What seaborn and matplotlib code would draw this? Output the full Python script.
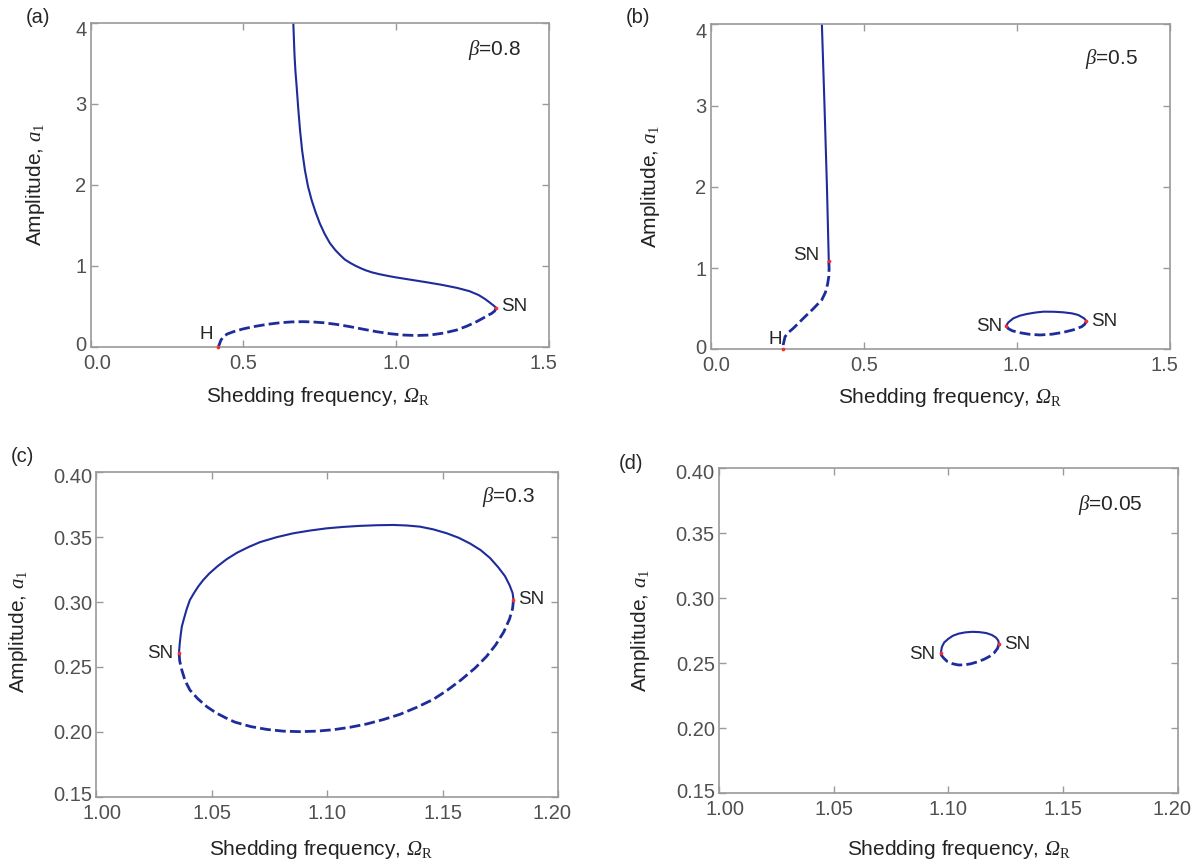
import numpy as np
import pandas as pd
import matplotlib
matplotlib.use("Agg")
import matplotlib.pyplot as plt
import matplotlib.transforms as mtransforms
import seaborn as sns

# ---------------- data ----------------
# Panel (a), beta = 0.8
a_stable_x = [0.663, 0.665, 0.667, 0.670, 0.674, 0.679, 0.685, 0.692, 0.701, 0.711, 0.723,
              0.736, 0.750, 0.766, 0.783, 0.800, 0.816, 0.832, 0.849, 0.866, 0.884, 0.900,
              0.920, 0.945, 0.975, 1.000, 1.050, 1.100, 1.150, 1.200, 1.240, 1.270, 1.290,
              1.305, 1.318, 1.327]
a_stable_y = [4.00, 3.80, 3.60, 3.40, 3.21, 2.95, 2.675, 2.42, 2.18, 1.98, 1.81,
              1.66, 1.52, 1.39, 1.277, 1.195, 1.132, 1.075, 1.035, 1.000, 0.968, 0.943,
              0.918, 0.895, 0.872, 0.855, 0.825, 0.795, 0.763, 0.725, 0.685, 0.637, 0.590,
              0.548, 0.510, 0.480]
a_unstable_x = [1.327, 1.322, 1.312, 1.301, 1.283, 1.263, 1.232, 1.198, 1.155, 1.111, 1.067,
                1.023, 0.980, 0.936, 0.893, 0.849, 0.805, 0.761, 0.728, 0.696, 0.658, 0.620,
                0.576, 0.532, 0.497, 0.467, 0.447, 0.434, 0.426, 0.421, 0.418]
a_unstable_y = [0.48, 0.44, 0.41, 0.39, 0.35, 0.309, 0.255, 0.206, 0.168, 0.144, 0.138,
                0.144, 0.160, 0.185, 0.215, 0.247, 0.275, 0.296, 0.305, 0.309, 0.306, 0.296,
                0.275, 0.247, 0.218, 0.185, 0.157, 0.123, 0.08, 0.03, 0.0]
a_points_x = [0.418, 1.327]
a_points_y = [0.0, 0.48]

# Panel (b), beta = 0.5
b_stable_x = [0.3635, 0.372, 0.380, 0.386]
b_stable_y = [4.0, 3.0, 2.0, 1.087]
b_unstable_x = [0.386, 0.387, 0.386, 0.382, 0.375, 0.363, 0.347, 0.333, 0.314, 0.292,
                0.270, 0.255, 0.2432, 0.2375, 0.2357]
b_unstable_y = [1.087, 1.0, 0.894, 0.80, 0.70, 0.607, 0.545, 0.49, 0.422, 0.34,
                0.258, 0.21, 0.155, 0.06, 0.0]
b_isola_stable_x = [0.965, 0.972, 0.9885, 1.010, 1.032, 1.060, 1.0864, 1.120, 1.152, 1.180,
                    1.2007, 1.2193, 1.227]
b_isola_stable_y = [0.290, 0.330, 0.381, 0.414, 0.434, 0.452, 0.463, 0.462, 0.455, 0.442,
                    0.422, 0.381, 0.349]
b_isola_unstable_x = [1.227, 1.222, 1.2117, 1.185, 1.152, 1.115, 1.0757, 1.040, 1.0103, 0.985,
                      0.972, 0.965]
b_isola_unstable_y = [0.349, 0.310, 0.278, 0.240, 0.209, 0.186, 0.176, 0.185, 0.204, 0.228,
                      0.255, 0.290]
b_points_x = [0.2357, 0.386, 0.965, 1.227]
b_points_y = [0.0, 1.087, 0.290, 0.349]

# Panel (c), beta = 0.3
c_stable_x = [1.0359, 1.0362, 1.0366, 1.0371, 1.0380, 1.0392, 1.0406, 1.0424, 1.0443, 1.0464,
              1.0490, 1.0525, 1.0565, 1.0610, 1.0660, 1.0710, 1.0782, 1.0854, 1.0926, 1.0998,
              1.1070, 1.1142, 1.1215, 1.1287, 1.1345, 1.1402, 1.1460, 1.1518, 1.1570, 1.1620,
              1.1665, 1.1705, 1.1740, 1.1770, 1.1790, 1.1803, 1.1807]
c_stable_y = [0.2610, 0.2680, 0.2745, 0.2810, 0.2870, 0.2945, 0.3016, 0.3070, 0.3122, 0.3170,
              0.3220, 0.3275, 0.3330, 0.3380, 0.3424, 0.3462, 0.3500, 0.3530, 0.3551, 0.3568,
              0.3579, 0.3587, 0.3592, 0.3594, 0.3590, 0.3581, 0.3560, 0.3530, 0.3495, 0.3450,
              0.3400, 0.3340, 0.3270, 0.3200, 0.3130, 0.3070, 0.3016]
c_unstable_x = [1.1807, 1.1803, 1.1790, 1.1765, 1.1730, 1.1690, 1.1640, 1.1580, 1.1520, 1.1460,
                1.1390, 1.1316, 1.1245, 1.1171, 1.1100, 1.1027, 1.0955, 1.0883, 1.0810, 1.0740,
                1.0670, 1.0600, 1.0565, 1.0520, 1.0479, 1.0440, 1.0406, 1.0385, 1.0371, 1.0362,
                1.0359]
c_unstable_y = [0.3016, 0.2950, 0.2870, 0.2770, 0.2670, 0.2580, 0.2490, 0.2400, 0.2320, 0.2250,
                0.2190, 0.2135, 0.2095, 0.2060, 0.2035, 0.2016, 0.2005, 0.2001, 0.2005, 0.2018,
                0.2040, 0.2075, 0.2104, 0.2145, 0.2194, 0.2255, 0.2322, 0.2395, 0.2476, 0.2545,
                0.2610]
c_points_x = [1.0359, 1.1807]
c_points_y = [0.2610, 0.3016]

# Panel (d), beta = 0.05
d_stable_x = [1.0968, 1.0972, 1.0982, 1.1000, 1.1020, 1.1045, 1.1074, 1.1105, 1.1135, 1.1165,
              1.1190, 1.1208, 1.1218, 1.1221]
d_stable_y = [0.2582, 0.2625, 0.2660, 0.2688, 0.2712, 0.2728, 0.2738, 0.2742, 0.2740, 0.2733,
              0.2718, 0.2698, 0.2675, 0.2649]
d_unstable_x = [1.1221, 1.1215, 1.1200, 1.1180, 1.1155, 1.1125, 1.1100, 1.1073, 1.1045, 1.1020,
                1.0995, 1.0980, 1.0970, 1.0968]
d_unstable_y = [0.2649, 0.2615, 0.2580, 0.2553, 0.2530, 0.2510, 0.2497, 0.2488, 0.2487, 0.2496,
                0.2515, 0.2540, 0.2562, 0.2582]
d_points_x = [1.0968, 1.1221]
d_points_y = [0.2582, 0.2649]

beta_labels = ["0.8", "0.5", "0.3", "0.05"]
panel_tags = ["(a)", "(b)", "(c)", "(d)"]
ab_xticks = [0.0, 0.5, 1.0, 1.5]
ab_yticks = [0, 1, 2, 3, 4]
cd_xticks = [1.00, 1.05, 1.10, 1.15, 1.20]
cd_yticks = [0.15, 0.20, 0.25, 0.30, 0.35, 0.40]

# ---------------- style ----------------
sns.set_theme(style="ticks")
plt.rcParams["font.family"] = ["Liberation Sans", "DejaVu Sans"]
# serif italic symbols (Greek capitals are drawn with the "rm" font, so make it italic)
plt.rcParams["mathtext.fontset"] = "custom"
plt.rcParams["mathtext.rm"] = "Liberation Serif:italic"
plt.rcParams["mathtext.it"] = "Liberation Serif:italic"
plt.rcParams["mathtext.sf"] = "Liberation Serif"
plt.rcParams["mathtext.bf"] = "Liberation Serif:bold"
plt.rcParams["lines.scale_dashes"] = False
plt.rcParams["lines.dashed_pattern"] = [7.8, 3.0]

LINE = "#1d2c9a"
RED = "#ff2a2a"
SPINE = "#9a9a9a"
TICKLAB = "#505050"
FS_LAB = 15
FS_TXT = 13.5

fig = plt.figure(figsize=(11.94, 8.65), dpi=100)
positions = [
    [0.0760, 0.5992, 0.3838, 0.3746],
    [0.5951, 0.5962, 0.3848, 0.3757],
    [0.0805, 0.0790, 0.3869, 0.3750],
    [0.6022, 0.0829, 0.3840, 0.3757],
]
axes = [fig.add_axes(p) for p in positions]


def draw(ax, x, y, dashed=False):
    df = pd.DataFrame({"x": x, "y": y})
    sns.lineplot(data=df, x="x", y="y", ax=ax, sort=False, estimator=None,
                 color=LINE, lw=2.0 if dashed else 1.5,
                 linestyle="--" if dashed else "-")


def points(ax, x, y):
    sns.scatterplot(x=x, y=y, ax=ax, color=RED, s=7, linewidth=0, zorder=5, clip_on=False)


def shift(label, dx_px, dy_px):
    off = mtransforms.ScaledTranslation(dx_px / 100.0, dy_px / 100.0, fig.dpi_scale_trans)
    label.set_transform(label.get_transform() + off)


# (a)
ax = axes[0]
draw(ax, a_stable_x, a_stable_y)
draw(ax, a_unstable_x, a_unstable_y, dashed=True)
points(ax, a_points_x, a_points_y)
ax.text(0.399, 0.04, "H", ha="right", va="bottom", fontsize=FS_TXT)
ax.text(1.342, 0.49, "SN", ha="left", va="center", fontsize=FS_TXT)

# (b)
ax = axes[1]
draw(ax, b_stable_x, b_stable_y)
draw(ax, b_unstable_x, b_unstable_y, dashed=True)
draw(ax, b_isola_stable_x, b_isola_stable_y)
draw(ax, b_isola_unstable_x, b_isola_unstable_y, dashed=True)
points(ax, b_points_x, b_points_y)
ax.text(0.234, 0.02, "H", ha="right", va="bottom", fontsize=FS_TXT)
ax.text(0.355, 1.149, "SN", ha="right", va="center", fontsize=FS_TXT)
ax.text(0.951, 0.278, "SN", ha="right", va="center", fontsize=FS_TXT)
ax.text(1.242, 0.348, "SN", ha="left", va="center", fontsize=FS_TXT)

# (c)
ax = axes[2]
draw(ax, c_stable_x, c_stable_y)
draw(ax, c_unstable_x, c_unstable_y, dashed=True)
points(ax, c_points_x, c_points_y)
ax.text(1.0335, 0.2605, "SN", ha="right", va="center", fontsize=FS_TXT)
ax.text(1.1829, 0.3020, "SN", ha="left", va="center", fontsize=FS_TXT)

# (d)
ax = axes[3]
draw(ax, d_stable_x, d_stable_y)
draw(ax, d_unstable_x, d_unstable_y, dashed=True)
points(ax, d_points_x, d_points_y)
ax.text(1.0944, 0.2569, "SN", ha="right", va="center", fontsize=FS_TXT)
ax.text(1.1245, 0.2646, "SN", ha="left", va="center", fontsize=FS_TXT)

beta_pos = [(0.824, 0.916), (0.815, 0.892), (0.836, 0.923), (0.782, 0.887)]
tag_pos = [(0.0318, 0.9803), (0.5343, 0.9803), (0.0184, 0.4728), (0.5285, 0.4636)]
xlab_pos = [(0.496, -0.155), (0.521, -0.147), (0.488, -0.164), (0.524, -0.174)]
ylab_pos = [(-0.1215, 0.5), (-0.1317, 0.5), (-0.169, 0.51), (-0.1707, 0.5)]

for i, ax in enumerate(axes):
    if i < 2:
        ax.set_xlim(0, 1.5)
        ax.set_ylim(0, 4)
        ax.set_xticks(ab_xticks)
        ax.set_xticklabels([f"{t:.1f}" for t in ab_xticks])
        ax.set_yticks(ab_yticks)
        ax.set_yticklabels([str(t) for t in ab_yticks])
    else:
        ax.set_xlim(1.0, 1.2)
        ax.set_ylim(0.15, 0.40)
        ax.set_xticks(cd_xticks)
        ax.set_xticklabels([f"{t:.2f}" for t in cd_xticks])
        ax.set_yticks(cd_yticks)
        ax.set_yticklabels([f"{t:.2f}" for t in cd_yticks])
    for s in ax.spines.values():
        s.set_visible(True)
        s.set_color(SPINE)
        s.set_linewidth(1.2)
    ax.tick_params(direction="in", length=5, width=1.0, color=SPINE,
                   top=True, right=True, labelsize=14.5, labelcolor=TICKLAB)
    ax.tick_params(axis="x", pad=5)
    ax.tick_params(axis="y", pad=3)
    # keep the corner labels inside the frame, as in the reference
    xl = ax.get_xticklabels()
    yl = ax.get_yticklabels()
    shift(xl[0], 6, 0)
    shift(xl[-1], -6, 0)
    shift(yl[0], 0, 3)
    shift(yl[-1], 0, -6 if i < 2 else -3)
    ax.set_xlabel(r"Shedding frequency, $\Omega_{\mathsf{R}}$", fontsize=FS_LAB,
                  color="#222222")
    ax.set_ylabel(r"Amplitude, $a_{\mathsf{1}}$", fontsize=FS_LAB, color="#222222")
    ax.xaxis.set_label_coords(*xlab_pos[i])
    ax.yaxis.set_label_coords(*ylab_pos[i])
    ax.xaxis.label.set_verticalalignment("center")
    ax.yaxis.label.set_verticalalignment("center")
    ax.text(beta_pos[i][0], beta_pos[i][1], r"$\beta$=" + beta_labels[i],
            transform=ax.transAxes, fontsize=15, ha="left", va="center")
    fig.text(tag_pos[i][0], tag_pos[i][1], panel_tags[i], fontsize=14.5,
             ha="center", va="center")

fig.savefig("out.png", dpi=100)
